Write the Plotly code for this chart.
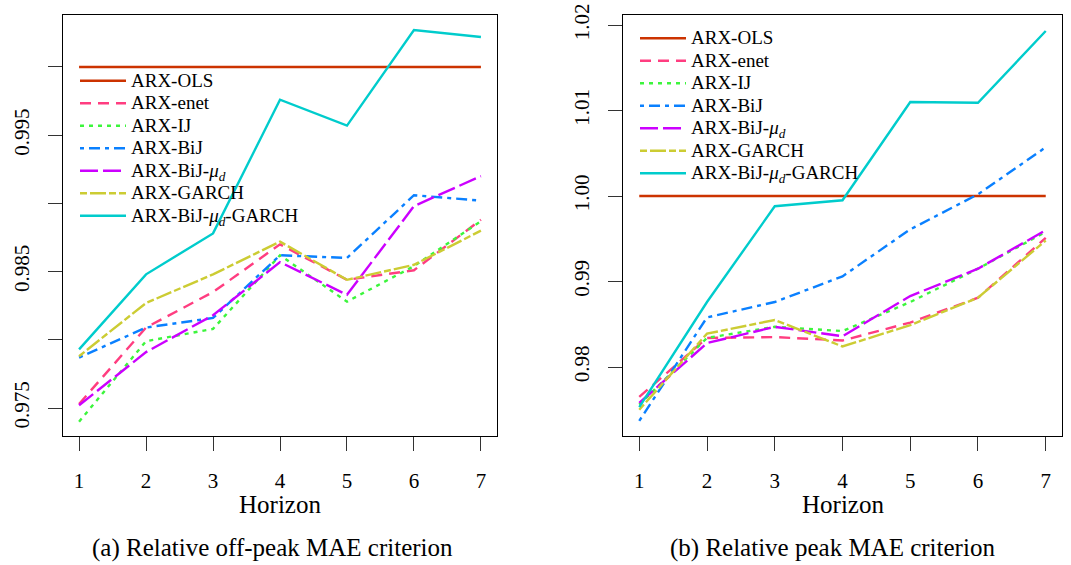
import plotly.graph_objects as go

# ---------------- data ----------------
horizon = [1, 2, 3, 4, 5, 6, 7]
model_names = ["ARX-OLS", "ARX-enet", "ARX-IJ", "ARX-BiJ", "ARX-BiJ-μd", "ARX-GARCH", "ARX-BiJ-μd-GARCH"]
legend_labels = ["ARX-OLS", "ARX-enet", "ARX-IJ", "ARX-BiJ",
                 "ARX-BiJ-<i>μ<sub>d</sub></i>", "ARX-GARCH", "ARX-BiJ-<i>μ<sub>d</sub></i>-GARCH"]

# (a) relative off-peak MAE
offpeak_ols = [1.0, 1.0, 1.0, 1.0, 1.0, 1.0, 1.0]
offpeak_enet = [0.9753, 0.9809, 0.9835, 0.9870, 0.9844, 0.9851, 0.9888]
offpeak_ij = [0.9740, 0.9799, 0.9808, 0.9862, 0.9828, 0.9854, 0.9887]
offpeak_bij = [0.9787, 0.9809, 0.9816, 0.9862, 0.9860, 0.9906, 0.9902]
offpeak_bij_mud = [0.9752, 0.9791, 0.9818, 0.9857, 0.9833, 0.9898, 0.9920]
offpeak_garch = [0.9788, 0.9827, 0.9848, 0.9872, 0.9844, 0.9855, 0.9880]
offpeak_bij_mud_garch = [0.9793, 0.9848, 0.9878, 0.9976, 0.9957, 1.0027, 1.0022]

# (b) relative peak MAE
peak_ols = [1.0, 1.0, 1.0, 1.0, 1.0, 1.0, 1.0]
peak_enet = [0.9765, 0.9834, 0.9835, 0.9831, 0.9852, 0.9881, 0.9951]
peak_ij = [0.9756, 0.9834, 0.9847, 0.9842, 0.9876, 0.9915, 0.9958]
peak_bij = [0.9737, 0.9858, 0.9876, 0.9906, 0.9961, 1.0002, 1.0057]
peak_bij_mud = [0.9758, 0.9828, 0.9847, 0.9836, 0.9883, 0.9915, 0.9960]
peak_garch = [0.9750, 0.9839, 0.9855, 0.9824, 0.9849, 0.9881, 0.9948]
peak_bij_mud_garch = [0.9753, 0.9876, 0.9988, 0.9995, 1.0110, 1.0109, 1.0193]

offpeak_series = [offpeak_ols, offpeak_enet, offpeak_ij, offpeak_bij,
                  offpeak_bij_mud, offpeak_garch, offpeak_bij_mud_garch]
peak_series = [peak_ols, peak_enet, peak_ij, peak_bij,
               peak_bij_mud, peak_garch, peak_bij_mud_garch]

offpeak_ticks = [0.975, 0.985, 0.995]          # labelled ticks
offpeak_ticktext = ["0.975", "0.985", "0.995"]
offpeak_minor_step = 0.005                     # unlabelled ticks every 0.005
peak_ticks = [0.98, 0.99, 1.00, 1.01, 1.02]
peak_ticktext = ["0.98", "0.99", "1.00", "1.01", "1.02"]

x_title = "Horizon"
captions = ["(a) Relative off-peak MAE criterion", "(b) Relative peak MAE criterion"]

# ---------------- styles ----------------
colors = ["#CC3300", "#FF3D80", "#3CF53C", "#0A80FF", "#CC00FF", "#CCCC33", "#00CCCC"]
dashes = ["solid", "11px,7px", "4px,5px", "4px,5px,11px,5px", "18px,5px",
          "7px,3px,16px,3px", "solid"]
LW = 2.4
FONT = "Liberation Serif, Times New Roman, serif"

fig = go.Figure()

for series, xa, ya, leg in [(offpeak_series, "x", "y", "legend"),
                            (peak_series, "x2", "y2", "legend2")]:
    for name, lab, vals, col, dsh in zip(model_names, legend_labels, series, colors, dashes):
        fig.add_trace(go.Scatter(
            x=horizon, y=vals, mode="lines",
            name='<span style="font-size:19px">' + lab + '</span>',
            line=dict(color=col, width=LW, dash=dsh),
            xaxis=xa, yaxis=ya, legend=leg, showlegend=True,
            hovertext=name,
        ))

W, H = 1071, 565
def px_x(p):
    return p / W
def px_y(p):
    return (H - p) / H

axis_common = dict(
    showline=True, mirror=True, linecolor="black", linewidth=1.3,
    ticks="outside", ticklen=14, tickwidth=1, tickcolor="#333333",
    showgrid=False, zeroline=False, automargin=False,
    tickfont=dict(family=FONT, size=21, color="black"),
)

fig.update_layout(
    width=W, height=H,
    margin=dict(l=0, r=0, t=0, b=0, autoexpand=False),
    paper_bgcolor="white", plot_bgcolor="white",
    font=dict(family=FONT, color="black"),
    xaxis=dict(domain=[px_x(63), px_x(497)], range=[0.76, 7.24],
               tickvals=horizon, ticklabelstandoff=12, anchor="y", **axis_common),
    yaxis=dict(domain=[px_y(436), px_y(15)], range=[0.97295, 1.00381],
               tickvals=offpeak_ticks, ticktext=offpeak_ticktext, tickangle=-90,
               minor=dict(tick0=offpeak_ticks[0], dtick=offpeak_minor_step, ticks="outside",
                          ticklen=14, tickwidth=1, tickcolor="#333333", showgrid=False),
               ticklabelstandoff=10, anchor="x", **axis_common),
    xaxis2=dict(domain=[px_x(623), px_x(1062)], range=[0.76, 7.24],
                tickvals=horizon, ticklabelstandoff=12, anchor="y2", **axis_common),
    yaxis2=dict(domain=[px_y(436), px_y(15)], range=[0.97193, 1.02117],
                tickvals=peak_ticks, ticktext=peak_ticktext, tickangle=-90,
                ticklabelstandoff=10, anchor="x2", **axis_common),
    legend=dict(x=px_x(75), y=px_y(64.5), xanchor="left", yanchor="top",
                bgcolor="rgba(0,0,0,0)", borderwidth=0, itemwidth=46,
                font=dict(family=FONT, size=15, color="black"),
                tracegroupgap=0),
    legend2=dict(x=px_x(635), y=px_y(22), xanchor="left", yanchor="top",
                 bgcolor="rgba(0,0,0,0)", borderwidth=0, itemwidth=46,
                 font=dict(family=FONT, size=15, color="black"),
                 tracegroupgap=0),
    annotations=[
        dict(text=x_title, x=0.5, y=px_y(504), xref="x domain", yref="paper",
             xanchor="center", yanchor="middle", showarrow=False,
             font=dict(family=FONT, size=25, color="black")),
        dict(text=x_title, x=0.5, y=px_y(504), xref="x2 domain", yref="paper",
             xanchor="center", yanchor="middle", showarrow=False,
             font=dict(family=FONT, size=25, color="black")),
        dict(text=captions[0], x=px_x(272), y=px_y(548), xref="paper", yref="paper",
             xanchor="center", yanchor="middle", showarrow=False,
             font=dict(family=FONT, size=25, color="black")),
        dict(text=captions[1], x=px_x(832), y=px_y(548), xref="paper", yref="paper",
             xanchor="center", yanchor="middle", showarrow=False,
             font=dict(family=FONT, size=25, color="black")),
    ],
)

fig.write_html("out.html")
